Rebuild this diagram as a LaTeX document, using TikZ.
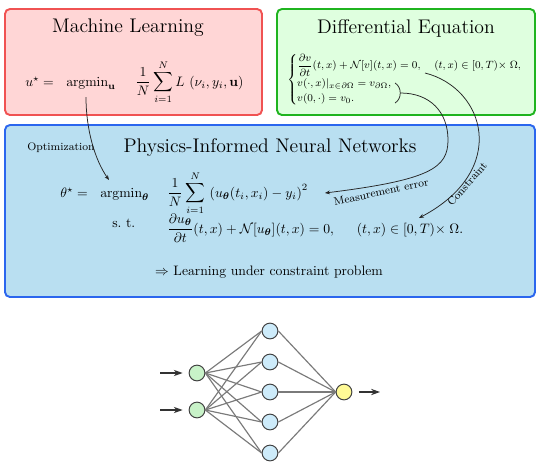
\documentclass[tikz,border=0pt]{standalone}
\usepackage{amsmath,amssymb}
\usetikzlibrary{arrows.meta}
\definecolor{mlfill}{HTML}{FFD6D6}
\definecolor{mlline}{HTML}{F05252}
\definecolor{defill}{HTML}{DFFFDF}
\definecolor{deline}{HTML}{1FB41F}
\definecolor{pifill}{HTML}{B9DFF1}
\definecolor{piline}{HTML}{2B66EE}
\definecolor{ingreen}{HTML}{C8F2C8}
\definecolor{hidblue}{HTML}{CDEBFA}
\definecolor{outyellow}{HTML}{FFFA96}
\tikzset{
  panel/.style={line width=1.4pt, rounded corners=3.6pt},
  ptitle/.style={font=\Large, anchor=base, inner sep=0pt},
  eqn/.style={anchor=base west, inner sep=0pt},
  lbl/.style={font=\footnotesize, inner sep=0pt},
  conn/.style={line width=0.55pt, draw=black!85, -{Stealth[length=3.6pt,width=2.8pt]}},
  neuron/.style={circle, draw=black!75, line width=0.7pt, minimum size=11.5pt, inner sep=0pt},
  syn/.style={draw=black!52, line width=0.85pt},
  io/.style={line width=0.75pt, draw=black!80, -{Stealth[length=6.5pt,width=4.6pt]}}
}
\begin{document}
\begin{tikzpicture}[x=0.73pt,y=-0.73pt]
\useasboundingbox (0,0) rectangle (541,470);
% panels
\draw[panel, draw=mlline, fill=mlfill] (5,9) rectangle (262,115);
\draw[panel, draw=deline, fill=defill] (277,9) rectangle (535,115);
\draw[panel, draw=piline, fill=pifill] (5,125) rectangle (535,297);
% titles
\node[ptitle] (mlt) at (128,32) {Machine Learning};
\node[ptitle] (det) at (406,33) {Differential Equation};
\node[ptitle] (pit) at (270,152) {Physics-Informed Neural Networks};
% machine learning formula
\node[eqn] (ustar) at (25,86) {$u^\star =$};
\node[eqn] (amu) at (66,86) {$\mathrm{argmin}_{\mathbf{u}}$};
\node[eqn] (lossu) at (135,86) {$\displaystyle\frac{1}{N}\sum_{i=1}^{N} L\,\left(\nu_i, y_i, \mathbf{u}\right)$};
% differential equation
\node[anchor=west, inner sep=0pt, font=\footnotesize, scale=0.96, transform shape] (cases) at (287,80)
 {$\begin{cases}
   \dfrac{\partial v}{\partial t}(t,x)+\mathcal{N}[v](t,x)=0, & \;(t,x)\in[0,T){\times}\;\Omega,\\
   v(\cdot,x)|_{x\in\partial\Omega}=v_{\partial\Omega}, & \\
   v(0,\cdot)=v_0. &
  \end{cases}$};
\coordinate (cstart) at (425,73);
\coordinate (ptop) at (395,83);
\coordinate (pbot) at (395,103);
\coordinate (mstart) at (400.5,93);
\draw[line width=0.55pt, black!85] (ptop) .. controls (402,87) and (402,99) .. (pbot);
% PINN formula
\node[eqn] (thstar) at (60,197) {$\theta^\star =$};
\node[eqn] (amt) at (100,197) {$\mathrm{argmin}_{\boldsymbol{\theta}}$};
\node[eqn] (losst) at (167,197) {$\displaystyle\frac{1}{N}\sum_{i=1}^{N}\,\left(u_{\boldsymbol{\theta}}(t_i,x_i)-y_i\right)^2$};
\node[eqn] (st) at (112,227) {s.\ t.};
\node[eqn] (cons) at (167,233) {$\displaystyle\frac{\partial u_{\boldsymbol{\theta}}}{\partial t}(t,x)+\mathcal{N}[u_{\boldsymbol{\theta}}](t,x)=0,\hspace{15pt}(t,x)\in[0,T){\times}\;\Omega.$};
\node[anchor=base, inner sep=0pt] (concl) at (269,275) {$\Rightarrow$ Learning under constraint problem};
% connectors
\coordinate (ostart) at (86,97);
\coordinate (oend) at (109,180);
\coordinate (mend) at (325,193);
\coordinate (cend) at (419,218);
\draw[conn] (ostart) .. controls (86,130) and (95,160) .. (oend)
  node[lbl, anchor=base west] at (27,150) {Optimization};
\draw[conn] (mstart) .. controls (430,93) and (448,112) .. (448,140)
  .. controls (448,168) and (430,180) .. (mend)
  node[lbl, rotate=12] at (381,192) {Measurement error};
\draw[conn] (cstart) .. controls (485,88) and (510,170) .. (cend)
  node[lbl, rotate=49] at (467,184) {Constraint};
% neural network
\foreach \i/\y in {1/373,2/410} \node[neuron, fill=ingreen] (i\i) at (197,\y) {};
\foreach \k/\y in {1/331,2/362,3/392,4/422,5/453} \node[neuron, fill=hidblue] (h\k) at (270,\y) {};
\node[neuron, fill=outyellow] (o) at (344,392) {};
\foreach \i in {1,2} \foreach \k in {1,...,5} \draw[syn] (i\i.east) -- (h\k.west);
\foreach \k in {1,...,5} \draw[syn] (h\k.east) -- (o.west);
\coordinate (a1) at (160,373);
\coordinate (a2) at (160,410);
\coordinate (oa) at (380,392);
\draw[io, shorten >=4.4pt] (a1) -- (i1.west);
\draw[io, shorten >=4.4pt] (a2) -- (i2.west);
\draw[io, shorten <=4.8pt] (o.east) -- (oa);
\end{tikzpicture}
\end{document}
